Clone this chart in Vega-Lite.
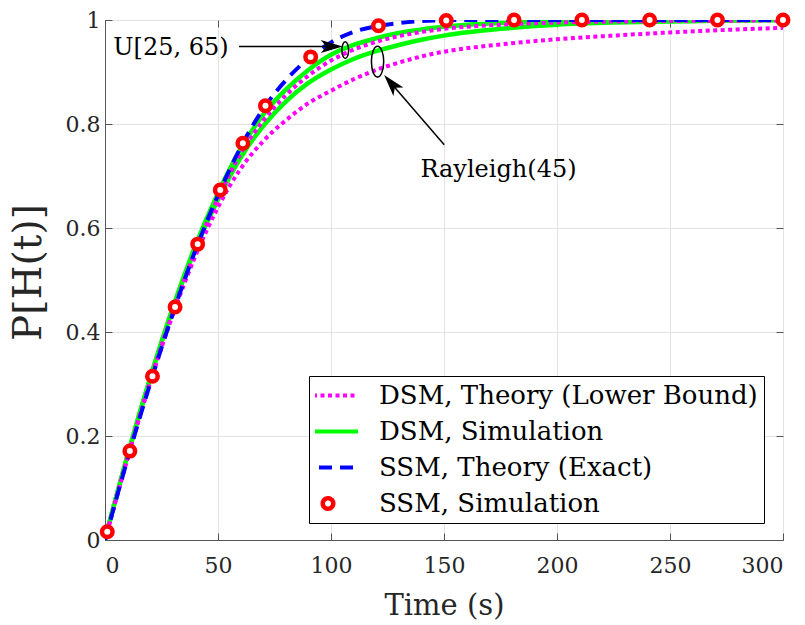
{
  "$schema": "https://vega.github.io/schema/vega-lite/v6.json",
  "width": 678,
  "height": 520,
  "padding": {"left": 9, "top": 5, "right": 20, "bottom": 5},
  "background": "white",
  "config": {
    "font": "DejaVu Serif",
    "view": {"stroke": "#555555", "strokeWidth": 1},
    "axis": {
      "labelFont": "DejaVu Serif", "labelFontSize": 22, "labelColor": "#262626",
      "titleFont": "DejaVu Serif", "titleFontWeight": "normal", "titleColor": "#262626",
      "gridColor": "#e3e3e3", "gridWidth": 1, "domainColor": "#555555", "tickColor": "#555555",
      "tickSize": -7
    }
  },
  "datasets": {
    "curves": [
      {"t": 0, "p": 0.002, "series": "DSM, Simulation", "case": "U"},
      {"t": 10, "p": 0.163, "series": "DSM, Simulation", "case": "U"},
      {"t": 20, "p": 0.311, "series": "DSM, Simulation", "case": "U"},
      {"t": 30, "p": 0.446, "series": "DSM, Simulation", "case": "U"},
      {"t": 40, "p": 0.566, "series": "DSM, Simulation", "case": "U"},
      {"t": 50, "p": 0.667, "series": "DSM, Simulation", "case": "U"},
      {"t": 60, "p": 0.752, "series": "DSM, Simulation", "case": "U"},
      {"t": 70, "p": 0.818, "series": "DSM, Simulation", "case": "U"},
      {"t": 80, "p": 0.866, "series": "DSM, Simulation", "case": "U"},
      {"t": 90, "p": 0.904, "series": "DSM, Simulation", "case": "U"},
      {"t": 100, "p": 0.933, "series": "DSM, Simulation", "case": "U"},
      {"t": 110, "p": 0.952, "series": "DSM, Simulation", "case": "U"},
      {"t": 120, "p": 0.965, "series": "DSM, Simulation", "case": "U"},
      {"t": 130, "p": 0.975, "series": "DSM, Simulation", "case": "U"},
      {"t": 140, "p": 0.982, "series": "DSM, Simulation", "case": "U"},
      {"t": 150, "p": 0.987, "series": "DSM, Simulation", "case": "U"},
      {"t": 175, "p": 0.994, "series": "DSM, Simulation", "case": "U"},
      {"t": 200, "p": 0.997, "series": "DSM, Simulation", "case": "U"},
      {"t": 250, "p": 0.999, "series": "DSM, Simulation", "case": "U"},
      {"t": 300, "p": 1.0, "series": "DSM, Simulation", "case": "U"},

      {"t": 0, "p": 0.002, "series": "DSM, Simulation", "case": "R"},
      {"t": 10, "p": 0.163, "series": "DSM, Simulation", "case": "R"},
      {"t": 20, "p": 0.311, "series": "DSM, Simulation", "case": "R"},
      {"t": 30, "p": 0.445, "series": "DSM, Simulation", "case": "R"},
      {"t": 40, "p": 0.560, "series": "DSM, Simulation", "case": "R"},
      {"t": 50, "p": 0.655, "series": "DSM, Simulation", "case": "R"},
      {"t": 60, "p": 0.735, "series": "DSM, Simulation", "case": "R"},
      {"t": 70, "p": 0.796, "series": "DSM, Simulation", "case": "R"},
      {"t": 80, "p": 0.843, "series": "DSM, Simulation", "case": "R"},
      {"t": 90, "p": 0.879, "series": "DSM, Simulation", "case": "R"},
      {"t": 100, "p": 0.905, "series": "DSM, Simulation", "case": "R"},
      {"t": 110, "p": 0.925, "series": "DSM, Simulation", "case": "R"},
      {"t": 120, "p": 0.940, "series": "DSM, Simulation", "case": "R"},
      {"t": 130, "p": 0.952, "series": "DSM, Simulation", "case": "R"},
      {"t": 140, "p": 0.962, "series": "DSM, Simulation", "case": "R"},
      {"t": 150, "p": 0.970, "series": "DSM, Simulation", "case": "R"},
      {"t": 175, "p": 0.983, "series": "DSM, Simulation", "case": "R"},
      {"t": 200, "p": 0.991, "series": "DSM, Simulation", "case": "R"},
      {"t": 225, "p": 0.995, "series": "DSM, Simulation", "case": "R"},
      {"t": 250, "p": 0.997, "series": "DSM, Simulation", "case": "R"},
      {"t": 275, "p": 0.999, "series": "DSM, Simulation", "case": "R"},
      {"t": 300, "p": 1.0, "series": "DSM, Simulation", "case": "R"},

      {"t": 0, "p": 0.0, "series": "DSM, Theory (Lower Bound)", "case": "U"},
      {"t": 10, "p": 0.158, "series": "DSM, Theory (Lower Bound)", "case": "U"},
      {"t": 20, "p": 0.305, "series": "DSM, Theory (Lower Bound)", "case": "U"},
      {"t": 30, "p": 0.438, "series": "DSM, Theory (Lower Bound)", "case": "U"},
      {"t": 40, "p": 0.556, "series": "DSM, Theory (Lower Bound)", "case": "U"},
      {"t": 50, "p": 0.657, "series": "DSM, Theory (Lower Bound)", "case": "U"},
      {"t": 60, "p": 0.743, "series": "DSM, Theory (Lower Bound)", "case": "U"},
      {"t": 70, "p": 0.806, "series": "DSM, Theory (Lower Bound)", "case": "U"},
      {"t": 80, "p": 0.855, "series": "DSM, Theory (Lower Bound)", "case": "U"},
      {"t": 90, "p": 0.893, "series": "DSM, Theory (Lower Bound)", "case": "U"},
      {"t": 100, "p": 0.922, "series": "DSM, Theory (Lower Bound)", "case": "U"},
      {"t": 110, "p": 0.943, "series": "DSM, Theory (Lower Bound)", "case": "U"},
      {"t": 120, "p": 0.958, "series": "DSM, Theory (Lower Bound)", "case": "U"},
      {"t": 130, "p": 0.969, "series": "DSM, Theory (Lower Bound)", "case": "U"},
      {"t": 140, "p": 0.977, "series": "DSM, Theory (Lower Bound)", "case": "U"},
      {"t": 150, "p": 0.983, "series": "DSM, Theory (Lower Bound)", "case": "U"},
      {"t": 175, "p": 0.991, "series": "DSM, Theory (Lower Bound)", "case": "U"},
      {"t": 200, "p": 0.995, "series": "DSM, Theory (Lower Bound)", "case": "U"},
      {"t": 250, "p": 0.998, "series": "DSM, Theory (Lower Bound)", "case": "U"},
      {"t": 300, "p": 0.999, "series": "DSM, Theory (Lower Bound)", "case": "U"},

      {"t": 0, "p": 0.0, "series": "DSM, Theory (Lower Bound)", "case": "R"},
      {"t": 10, "p": 0.158, "series": "DSM, Theory (Lower Bound)", "case": "R"},
      {"t": 20, "p": 0.303, "series": "DSM, Theory (Lower Bound)", "case": "R"},
      {"t": 30, "p": 0.433, "series": "DSM, Theory (Lower Bound)", "case": "R"},
      {"t": 40, "p": 0.546, "series": "DSM, Theory (Lower Bound)", "case": "R"},
      {"t": 50, "p": 0.640, "series": "DSM, Theory (Lower Bound)", "case": "R"},
      {"t": 60, "p": 0.714, "series": "DSM, Theory (Lower Bound)", "case": "R"},
      {"t": 70, "p": 0.767, "series": "DSM, Theory (Lower Bound)", "case": "R"},
      {"t": 80, "p": 0.807, "series": "DSM, Theory (Lower Bound)", "case": "R"},
      {"t": 90, "p": 0.840, "series": "DSM, Theory (Lower Bound)", "case": "R"},
      {"t": 100, "p": 0.864, "series": "DSM, Theory (Lower Bound)", "case": "R"},
      {"t": 110, "p": 0.886, "series": "DSM, Theory (Lower Bound)", "case": "R"},
      {"t": 120, "p": 0.904, "series": "DSM, Theory (Lower Bound)", "case": "R"},
      {"t": 130, "p": 0.918, "series": "DSM, Theory (Lower Bound)", "case": "R"},
      {"t": 140, "p": 0.930, "series": "DSM, Theory (Lower Bound)", "case": "R"},
      {"t": 150, "p": 0.939, "series": "DSM, Theory (Lower Bound)", "case": "R"},
      {"t": 175, "p": 0.953, "series": "DSM, Theory (Lower Bound)", "case": "R"},
      {"t": 200, "p": 0.963, "series": "DSM, Theory (Lower Bound)", "case": "R"},
      {"t": 225, "p": 0.970, "series": "DSM, Theory (Lower Bound)", "case": "R"},
      {"t": 250, "p": 0.976, "series": "DSM, Theory (Lower Bound)", "case": "R"},
      {"t": 275, "p": 0.981, "series": "DSM, Theory (Lower Bound)", "case": "R"},
      {"t": 300, "p": 0.985, "series": "DSM, Theory (Lower Bound)", "case": "R"},

      {"t": 0, "p": 0.0, "series": "SSM, Theory (Exact)", "case": "S"},
      {"t": 10, "p": 0.156, "series": "SSM, Theory (Exact)", "case": "S"},
      {"t": 20, "p": 0.301, "series": "SSM, Theory (Exact)", "case": "S"},
      {"t": 30, "p": 0.435, "series": "SSM, Theory (Exact)", "case": "S"},
      {"t": 40, "p": 0.557, "series": "SSM, Theory (Exact)", "case": "S"},
      {"t": 50, "p": 0.663, "series": "SSM, Theory (Exact)", "case": "S"},
      {"t": 60, "p": 0.755, "series": "SSM, Theory (Exact)", "case": "S"},
      {"t": 70, "p": 0.829, "series": "SSM, Theory (Exact)", "case": "S"},
      {"t": 80, "p": 0.884, "series": "SSM, Theory (Exact)", "case": "S"},
      {"t": 90, "p": 0.926, "series": "SSM, Theory (Exact)", "case": "S"},
      {"t": 100, "p": 0.957, "series": "SSM, Theory (Exact)", "case": "S"},
      {"t": 110, "p": 0.977, "series": "SSM, Theory (Exact)", "case": "S"},
      {"t": 120, "p": 0.988, "series": "SSM, Theory (Exact)", "case": "S"},
      {"t": 130, "p": 0.994, "series": "SSM, Theory (Exact)", "case": "S"},
      {"t": 140, "p": 0.998, "series": "SSM, Theory (Exact)", "case": "S"},
      {"t": 150, "p": 0.9995, "series": "SSM, Theory (Exact)", "case": "S"},
      {"t": 160, "p": 1.0, "series": "SSM, Theory (Exact)", "case": "S"},
      {"t": 300, "p": 1.0, "series": "SSM, Theory (Exact)", "case": "S"}
    ],
    "sim": [
      {"t": 1, "p": 0.016, "series": "SSM, Simulation"},
      {"t": 11, "p": 0.171, "series": "SSM, Simulation"},
      {"t": 21, "p": 0.315, "series": "SSM, Simulation"},
      {"t": 31, "p": 0.448, "series": "SSM, Simulation"},
      {"t": 41, "p": 0.569, "series": "SSM, Simulation"},
      {"t": 51, "p": 0.673, "series": "SSM, Simulation"},
      {"t": 61, "p": 0.763, "series": "SSM, Simulation"},
      {"t": 71, "p": 0.835, "series": "SSM, Simulation"},
      {"t": 91, "p": 0.929, "series": "SSM, Simulation"},
      {"t": 121, "p": 0.989, "series": "SSM, Simulation"},
      {"t": 151, "p": 0.999, "series": "SSM, Simulation"},
      {"t": 181, "p": 1.0, "series": "SSM, Simulation"},
      {"t": 211, "p": 1.0, "series": "SSM, Simulation"},
      {"t": 241, "p": 1.0, "series": "SSM, Simulation"},
      {"t": 271, "p": 1.0, "series": "SSM, Simulation"},
      {"t": 300, "p": 1.0, "series": "SSM, Simulation"}
    ]
  },
  "resolve": {"axis": {"x": "independent", "y": "independent"}},
  "layer": [
    {
      "layer": [
        {
          "data": {"name": "curves"},
          "transform": [{"filter": "datum.series === 'DSM, Simulation'"}],
          "mark": {"type": "line", "strokeWidth": 4.5, "interpolate": "monotone", "clip": true},
          "encoding": {
            "x": {"field": "t", "type": "quantitative",
                  "scale": {"domain": [0, 300], "nice": false},
                  "axis": {"title": "Time (s)", "titleFontSize": 29, "titlePadding": 15, "labelPadding": 22, "values": [0, 50, 100, 150, 200, 250, 300], "grid": true}},
            "y": {"field": "p", "type": "quantitative",
                  "scale": {"domain": [0, 1], "nice": false},
                  "axis": {"title": "P[H(t)]", "titleFontSize": 39, "titlePadding": 17, "titleY": 252, "labelPadding": 12, "values": [0, 0.2, 0.4, 0.6, 0.8, 1], "format": ".1~f", "grid": true}},
            "color": {
              "field": "series", "type": "nominal",
              "scale": {"domain": ["DSM, Theory (Lower Bound)", "DSM, Simulation", "SSM, Theory (Exact)", "SSM, Simulation"],
                        "range": ["#ff00ff", "#00ff00", "#0000ff", "#ff0000"]},
              "legend": {
                "title": null, "orient": "none", "legendX": 204, "legendY": 356,
                "symbolType": "stroke", "symbolSize": 3600, "symbolStrokeWidth": 4,
                "clipHeight": 27, "rowPadding": 9,
                "labelFont": "DejaVu Serif", "labelFontSize": 26, "labelColor": "#000000",
                "labelOffset": 38, "labelLimit": 600,
                "strokeColor": "#000000", "fillColor": "#ffffff", "padding": 6,
                "encode": {
                  "symbols": {
                    "update": {
                      "shape": {"signal": "datum.value === 'SSM, Simulation' ? 'circle' : 'stroke'"},
                      "size": {"signal": "datum.value === 'SSM, Simulation' ? 110 : 3600"},
                      "strokeWidth": {"signal": "datum.value === 'SSM, Simulation' ? 4.5 : 4"},
                      "strokeDash": {"signal": "datum.value === 'DSM, Theory (Lower Bound)' ? [4, 3.5] : (datum.value === 'SSM, Theory (Exact)' ? [13, 8] : [1, 0])"},
                      "fill": {"value": "#ffffff"}
                    }
                  }
                }
              }
            },
            "detail": {"field": "case"}
          }
        },
        {
          "data": {"name": "curves"},
          "transform": [{"filter": "datum.series === 'DSM, Theory (Lower Bound)'"}],
          "mark": {"type": "line", "strokeWidth": 4, "strokeDash": [4, 3.5], "strokeCap": "butt", "interpolate": "monotone", "clip": true},
          "encoding": {
            "x": {"field": "t", "type": "quantitative"},
            "y": {"field": "p", "type": "quantitative"},
            "color": {"field": "series", "type": "nominal"},
            "detail": {"field": "case"}
          }
        },
        {
          "data": {"name": "curves"},
          "transform": [{"filter": "datum.series === 'SSM, Theory (Exact)'"}],
          "mark": {"type": "line", "strokeWidth": 4, "strokeDash": [13, 8], "strokeCap": "butt", "interpolate": "monotone", "clip": true},
          "encoding": {
            "x": {"field": "t", "type": "quantitative"},
            "y": {"field": "p", "type": "quantitative"},
            "color": {"field": "series", "type": "nominal"}
          }
        },
        {
          "data": {"name": "sim"},
          "mark": {"type": "point", "shape": "circle", "filled": false, "fill": "#ffffff", "size": 110, "strokeWidth": 4.5, "opacity": 1},
          "encoding": {
            "x": {"field": "t", "type": "quantitative"},
            "y": {"field": "p", "type": "quantitative"},
            "color": {"field": "series", "type": "nominal"}
          }
        },
        {
          "data": {"values": [{"t": 106.3, "p": 0.942}]},
          "mark": {"type": "point", "filled": false, "stroke": "#000000", "strokeWidth": 1.5, "opacity": 1, "size": 279,
                   "shape": "M0,-1 C0.221,-1 0.4,-0.552 0.4,0 C0.4,0.552 0.221,1 0,1 C-0.221,1 -0.4,0.552 -0.4,0 C-0.4,-0.552 -0.221,-1 0,-1 Z"},
          "encoding": {"x": {"field": "t", "type": "quantitative"}, "y": {"field": "p", "type": "quantitative"}}
        },
        {
          "data": {"values": [{"t": 120.6, "p": 0.920}]},
          "mark": {"type": "point", "filled": false, "stroke": "#000000", "strokeWidth": 1.5, "opacity": 1, "size": 942,
                   "shape": "M0,-1 C0.221,-1 0.4,-0.552 0.4,0 C0.4,0.552 0.221,1 0,1 C-0.221,1 -0.4,0.552 -0.4,0 C-0.4,-0.552 -0.221,-1 0,-1 Z"},
          "encoding": {"x": {"field": "t", "type": "quantitative"}, "y": {"field": "p", "type": "quantitative"}}
        },
        {
          "data": {"values": [{"t": 59.3, "p": 0.949, "t2": 100.0, "p2": 0.949}, {"t": 150.1, "p": 0.760, "t2": 126.9, "p2": 0.877}]},
          "mark": {"type": "rule", "stroke": "#000000", "strokeWidth": 1.5},
          "encoding": {
            "x": {"field": "t", "type": "quantitative"}, "y": {"field": "p", "type": "quantitative"},
            "x2": {"field": "t2"}, "y2": {"field": "p2"}
          }
        },
        {
          "data": {"values": [{"t": 105.2, "p": 0.949}]},
          "mark": {"type": "point", "filled": true, "color": "#000000", "opacity": 1, "size": 484, "angle": 90,
                   "shape": "M0,0 L0.6,2 L0,1.5 L-0.6,2 Z"},
          "encoding": {"x": {"field": "t", "type": "quantitative"}, "y": {"field": "p", "type": "quantitative"}}
        },
        {
          "data": {"values": [{"t": 123.5, "p": 0.894}]},
          "mark": {"type": "point", "filled": true, "color": "#000000", "opacity": 1, "size": 484, "angle": 319.4,
                   "shape": "M0,0 L0.6,2 L0,1.5 L-0.6,2 Z"},
          "encoding": {"x": {"field": "t", "type": "quantitative"}, "y": {"field": "p", "type": "quantitative"}}
        },
        {
          "data": {"values": [{"t": 29.2, "p": 0.947, "label": "U[25, 65)"}, {"t": 174.1, "p": 0.712, "label": "Rayleigh(45)"}]},
          "mark": {"type": "text", "font": "DejaVu Serif", "fontSize": 24, "color": "#000000", "align": "center", "baseline": "middle"},
          "encoding": {"x": {"field": "t", "type": "quantitative"}, "y": {"field": "p", "type": "quantitative"}, "text": {"field": "label"}}
        }
      ]
    },
    {
      "data": {"values": [{"t": 0, "p": 0}, {"t": 300, "p": 1}]},
      "mark": {"type": "point", "opacity": 0},
      "encoding": {
        "x": {"field": "t", "type": "quantitative",
              "axis": {"orient": "top", "labels": false, "title": null, "grid": false, "domain": false, "values": [0, 50, 100, 150, 200, 250, 300]}},
        "y": {"field": "p", "type": "quantitative",
              "axis": {"orient": "right", "labels": false, "title": null, "grid": false, "domain": false, "values": [0, 0.2, 0.4, 0.6, 0.8, 1]}}
      }
    }
  ]
}
